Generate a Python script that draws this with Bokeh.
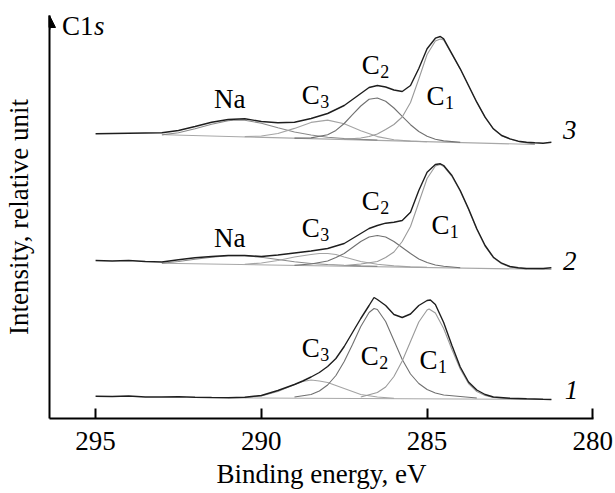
from bokeh.plotting import figure
from bokeh.models import Range1d, FixedTicker, Arrow, NormalHead
from bokeh.core.properties import value
from bokeh.embed import file_html
from bokeh.resources import INLINE

# ---------------- data (binding energy in eV, intensity in arbitrary units) ----------------
x_ticks = [295, 290, 285, 280]

# spectrum 3 (top)
s3_env_e = [295, 294.5, 294, 293.5, 293, 292.5, 292, 291.5, 291, 290.5, 290, 289.5, 289, 288.5, 288,
            287.5, 287, 286.75, 286.5, 286.25, 286, 285.75, 285.5, 285.25, 285, 284.75, 284.6, 284.5,
            284.25, 284, 283.75, 283.5, 283.25, 283, 282.75, 282.5, 282.25, 282, 281.75, 281.5, 281.25]
s3_env_v = [284.7, 285, 285.3, 285.5, 285.7, 288, 292, 296.3, 299, 299.7, 297, 295.7, 296.3, 300, 305,
            313, 325, 331, 333, 331.5, 328.5, 327, 333, 350, 369.7, 380.3, 382, 379.7,
            364.7, 349.7, 333, 316.3, 301.3, 289.7, 283, 279.7, 277.3, 276.3, 275.7, 275.3, 276.3]
s3_base_e = [292.9, 281.75]
s3_base_v = [283.7, 274]
s3_na_e = [293, 292.5, 292, 291.5, 291, 290.75, 290.5, 290, 289.5, 289, 288.5, 288, 287.5, 287, 286.5]
s3_na_v = [283.6, 285.7, 289.7, 294.3, 297.7, 298.5, 298.3, 295.3, 290.8, 286.5, 283.5, 281.3, 280, 279.1, 278.4]
s3_c3_e = [290.5, 290, 289.5, 289, 288.5, 288, 287.5, 287, 286.5, 286, 285.5, 285]
s3_c3_v = [281.9, 282.5, 285, 290.1, 296.1, 298.4, 294.8, 287.7, 281.9, 278.8, 277.4, 276.8]
s3_c2_e = [289, 288.5, 288, 287.75, 287.5, 287.25, 287, 286.75, 286.5, 286.25, 286, 285.75, 285.5,
           285.25, 285, 284.75, 284.5, 284]
s3_c2_v = [280.4, 280.6, 283.7, 288.1, 295, 303.8, 312.5, 319.3, 320.5, 317.3, 310.5, 302.1, 293.8,
           287, 282.3, 279.3, 277.6, 276.3]
s3_c1_e = [287.5, 287, 286.75, 286.5, 286.25, 286, 285.75, 285.5, 285.25, 285, 284.75, 284.6, 284.5,
           284.25, 284, 283.75, 283.5, 283.25, 283, 282.75, 282.5, 282.25, 282, 281.75]
s3_c1_v = [279.3, 280.5, 282, 284.5, 289, 294, 301.5, 316, 339.5, 364, 377.5, 379.5, 378.5,
           364, 349.5, 332.8, 316, 301, 289.5, 282.8, 279.5, 277, 275.6, 274.5]

# spectrum 2 (middle)
s2_env_e = list(s3_env_e)
s2_env_v = [158, 157.5, 158, 157, 156.5, 158.7, 160.7, 162, 163, 163, 162, 163.5, 165.5, 167.5, 170,
            175, 185, 190, 193, 195.3, 196.3, 198, 206.3, 228, 246.3, 254, 254.7, 253,
            243, 228, 209.7, 189.7, 173, 161.3, 155.3, 152, 150.7, 150, 150, 150, 150.7]
s2_base_e = [293, 281.25]
s2_base_v = [155.3, 149]
s2_na_e = [293, 292.5, 292, 291.5, 291, 290.5, 290, 289.5, 289, 288.5, 288, 287.5, 287, 286.5]
s2_na_v = [155.3, 157, 159.3, 161.3, 162.7, 162.7, 161.3, 159, 156.7, 155, 154, 153.2, 152.6, 152.1]
s2_c3_e = [290.5, 290, 289.5, 289, 288.5, 288.25, 288, 287.75, 287.5, 287, 286.5, 286, 285.5, 285]
s2_c3_v = [154.2, 155.5, 158, 161.5, 164, 165, 165, 164, 161.5, 157, 154.3, 152.6, 151.6, 151.1]
s2_c2_e = [289, 288.5, 288, 287.75, 287.5, 287.25, 287, 286.75, 286.5, 286.25, 286, 285.75, 285.5,
           285.25, 285, 284.75, 284.5, 284]
s2_c2_v = [153.3, 154.5, 157.5, 161, 165, 171, 177, 181.5, 183, 181.5, 177, 171, 165,
           159.5, 156, 153.5, 152.2, 150.8]
s2_c1_e = [287.5, 287, 286.5, 286.25, 286, 285.75, 285.5, 285.25, 285, 284.75, 284.6, 284.5, 284.25,
           284, 283.75, 283.5, 283.25, 283, 282.75, 282.5, 282.25, 282]
s2_c1_v = [153, 154.5, 157, 161, 166.5, 177, 192, 216, 240, 252.5, 254, 252, 242,
           227.3, 209, 189, 172.3, 160.7, 154.7, 151.5, 150.2, 149.5]

# spectrum 1 (bottom)
s1_env_e = [295, 294.5, 294, 293.5, 293, 292.5, 292, 291.5, 291, 290.5, 290, 289.5, 289, 288.75, 288.5,
            288.25, 288, 287.75, 287.5, 287.25, 287, 286.75, 286.6, 286.5, 286.25, 286, 285.75, 285.5,
            285.25, 285, 284.9, 284.75, 284.5, 284.25, 284, 283.75, 283.5, 283.25, 283, 282.5, 282,
            281.5, 281.25]
s1_env_v = [22.3, 22, 22.5, 21.5, 21.5, 21.8, 21.3, 21, 20.8, 21.3, 23, 28, 34, 37.5, 41.5,
            46, 52, 60, 72, 86, 100, 113, 121, 119, 113, 104, 101, 104.5,
            113, 118, 118.5, 114, 96, 73, 51.5, 36.5, 28.5, 24, 21.5, 20.3, 19.7,
            19.2, 19]
s1_base_e = [291, 281.25]
s1_base_v = [20.7, 19]
s1_c3_e = [290.5, 290, 289.5, 289, 288.75, 288.5, 288.25, 288, 287.75, 287.5, 287.25, 287, 286.5, 286]
s1_c3_v = [20.8, 22.5, 27, 34, 37, 38.5, 37.5, 36, 33, 30, 27, 24, 21.5, 20.3]
s1_c2_e = [289, 288.5, 288.25, 288, 287.75, 287.5, 287.25, 287, 286.75, 286.6, 286.5, 286.25, 286,
           285.75, 285.5, 285.25, 285, 284.75, 284.5, 284, 283.5]
s1_c2_v = [21.5, 24, 27.5, 33.5, 43, 57, 74, 92, 106, 110, 109, 97, 78,
           59, 44.5, 35, 29, 25.5, 23.5, 22, 20.5]
s1_c1_e = [287, 286.5, 286.25, 286, 285.75, 285.5, 285.25, 285, 284.94, 284.75, 284.5, 284.25, 284,
           283.75, 283.5, 283.25, 283, 282.5, 282]
s1_c1_v = [21.5, 26, 31.5, 42, 57.5, 77, 96.5, 108.5, 109.5, 105.5, 90, 69, 49.5,
           35, 27, 23, 21, 19.8, 19.5]

# ---------------- figure ----------------
FONT = "Liberation Serif"
X_LEFT, X_RIGHT = 296.39, 279.98
Y_TOP = 403

p = figure(width=615, height=493, output_backend="svg", toolbar_location=None,
           x_range=Range1d(X_LEFT, X_RIGHT), y_range=Range1d(0, Y_TOP),
           min_border_left=49, min_border_right=22, min_border_top=15, min_border_bottom=75,
           x_axis_label="Binding energy, eV", y_axis_label="Intensity, relative unit")
p.grid.visible = False
p.outline_line_color = None
p.background_fill_color = "white"
p.border_fill_color = "white"

for ax in (p.xaxis[0], p.yaxis[0]):
    ax.axis_line_width = 2
    ax.axis_line_color = "black"
    ax.minor_tick_in = 0
    ax.minor_tick_out = 0
    ax.axis_label_text_font = FONT
    ax.axis_label_text_font_size = "27px"
    ax.axis_label_text_font_style = "normal"
    ax.axis_label_text_color = "black"
    ax.major_label_text_font = FONT
    ax.major_label_text_font_size = "27px"
    ax.major_label_text_color = "black"

p.xaxis.ticker = FixedTicker(ticks=x_ticks)
p.xaxis.major_tick_in = 10
p.xaxis.major_tick_out = 0
p.xaxis.major_tick_line_width = 2
p.xaxis.major_label_standoff = 13
p.xaxis.axis_label_standoff = 6

p.yaxis.ticker = FixedTicker(ticks=[])
p.yaxis.major_tick_in = 0
p.yaxis.major_tick_out = 0
p.yaxis.axis_label_standoff = 16

p.add_layout(Arrow(end=NormalHead(size=12, fill_color="black", line_color="black", line_width=1),
                   x_start=X_LEFT, y_start=Y_TOP - 14, x_end=X_LEFT, y_end=Y_TOP,
                   line_width=2, line_color="black"))

ENV = "#1e1e1e"
COL = {"base": "#a8a8a8", "na": "#8a8a8a", "c3": "#a4a4a4", "c2": "#707070", "c1": "#9a9a9a"}

spectra = [
    (s3_base_e, s3_base_v, "base"), (s3_na_e, s3_na_v, "na"), (s3_c3_e, s3_c3_v, "c3"),
    (s3_c2_e, s3_c2_v, "c2"), (s3_c1_e, s3_c1_v, "c1"),
    (s2_base_e, s2_base_v, "base"), (s2_na_e, s2_na_v, "na"), (s2_c3_e, s2_c3_v, "c3"),
    (s2_c2_e, s2_c2_v, "c2"), (s2_c1_e, s2_c1_v, "c1"),
    (s1_base_e, s1_base_v, "base"), (s1_c3_e, s1_c3_v, "c3"),
    (s1_c2_e, s1_c2_v, "c2"), (s1_c1_e, s1_c1_v, "c1"),
]
for e, v, kind in spectra:
    p.line(e, v, line_color=COL[kind], line_width=1.1)

for e, v in ((s3_env_e, s3_env_v), (s2_env_e, s2_env_v), (s1_env_e, s1_env_v)):
    p.line(e, v, line_color=ENV, line_width=1.4)

# ---------------- annotations ----------------
PX_PER_EV = 33.2
SUB_DX = 18.5 / PX_PER_EV
SUB_DY = 7
LIFT = 8  # screen px correction for text baseline

peak_labels = [  # (main text, subscript, x_left, baseline)
    ("Na", "", 291.43, 312), ("C", "3", 288.78, 316), ("C", "2", 286.97, 346), ("C", "1", 285.02, 315),
    ("Na", "", 291.43, 173), ("C", "3", 288.78, 183), ("C", "2", 286.97, 210), ("C", "1", 284.87, 186),
    ("C", "3", 288.78, 63), ("C", "2", 287.0, 55), ("C", "1", 285.23, 51),
]
main_x = [t[2] for t in peak_labels]
main_y = [t[3] + LIFT for t in peak_labels]
main_t = [t[0] for t in peak_labels]
p.text(main_x, main_y, text=main_t, text_font=value(FONT), text_font_size="27px",
       text_color="black", text_align="left", text_baseline="alphabetic")
subs = [t for t in peak_labels if t[1]]
p.text([t[2] - SUB_DX for t in subs], [t[3] + LIFT - SUB_DY for t in subs], text=[t[1] for t in subs],
       text_font=value(FONT), text_font_size="18px", text_color="black",
       text_align="left", text_baseline="alphabetic")

curve_numbers = [("3", 280.9, 281), ("2", 280.9, 150), ("1", 280.85, 21)]
p.text([c[1] for c in curve_numbers], [c[2] + LIFT for c in curve_numbers], text=[c[0] for c in curve_numbers],
       text_font=value(FONT), text_font_size="27px", text_font_style="italic", text_color="black",
       text_align="left", text_baseline="alphabetic")

p.text([296.015], [385 + LIFT], text=["C1"], text_font=value(FONT), text_font_size="27px",
       text_color="black", text_align="left", text_baseline="alphabetic")
p.text([295.05], [385 + LIFT], text=["s"], text_font=value(FONT), text_font_size="27px",
       text_font_style="italic", text_color="black", text_align="left", text_baseline="alphabetic")

open("out.html", "w").write(file_html(p, INLINE))
